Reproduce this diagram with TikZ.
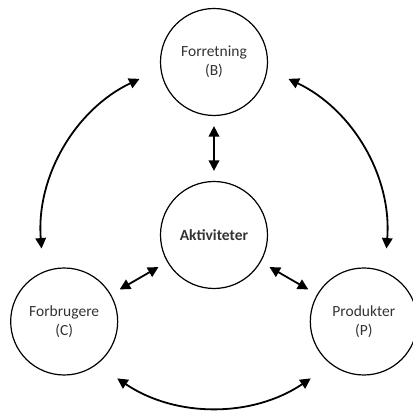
\documentclass[tikz,border=0pt]{standalone}
\usepackage{fontspec}
\setmainfont{Carlito}
\usetikzlibrary{arrows.meta}

\begin{document}
\begin{tikzpicture}[x=1pt, y=1pt,
    C/.style = {circle, draw, line width=1.2pt,% styles of the circles
                minimum size=107pt, inner sep=0pt,
                align=center, font=\fontsize{15.5}{19}\selectfont,
                text=black!80},
    D/.style = {line width=1.8pt,% styles of the double arrows
                {Triangle[length=10.5pt,width=10.5pt]}-{Triangle[length=10.5pt,width=10.5pt]}},
    S/.style = {D, shorten <=10pt, shorten >=10pt},
                        ]
\useasboundingbox (-214,-177) rectangle (199,235);
\node[C, font=\bfseries\fontsize{15.5}{19}\selectfont] (A) at (0,0) {Aktiviteter};
\node[C] (B) at (90:173)  {Forretning\\(B)};
\node[C] (K) at (210:173) {Forbrugere\\(C)};
\node[C] (P) at (330:173) {Produkter\\(P)};
\draw[S] (B) -- (A);
\draw[S] (A) -- (K);
\draw[S] (A) -- (P);
% outer arcs, on the circle through the node centres
\draw[D] ([shift={(115.5:173)}]A.center) arc[start angle=115.5, end angle=184.5, radius=173];
\draw[D] ([shift={(64.5:173)}]A.center)  arc[start angle=64.5, end angle=-4.5, radius=173];
\draw[D] ([shift={(236:173)}]A.center)   arc[start angle=236, end angle=304, radius=173];
\end{tikzpicture}
\end{document}
